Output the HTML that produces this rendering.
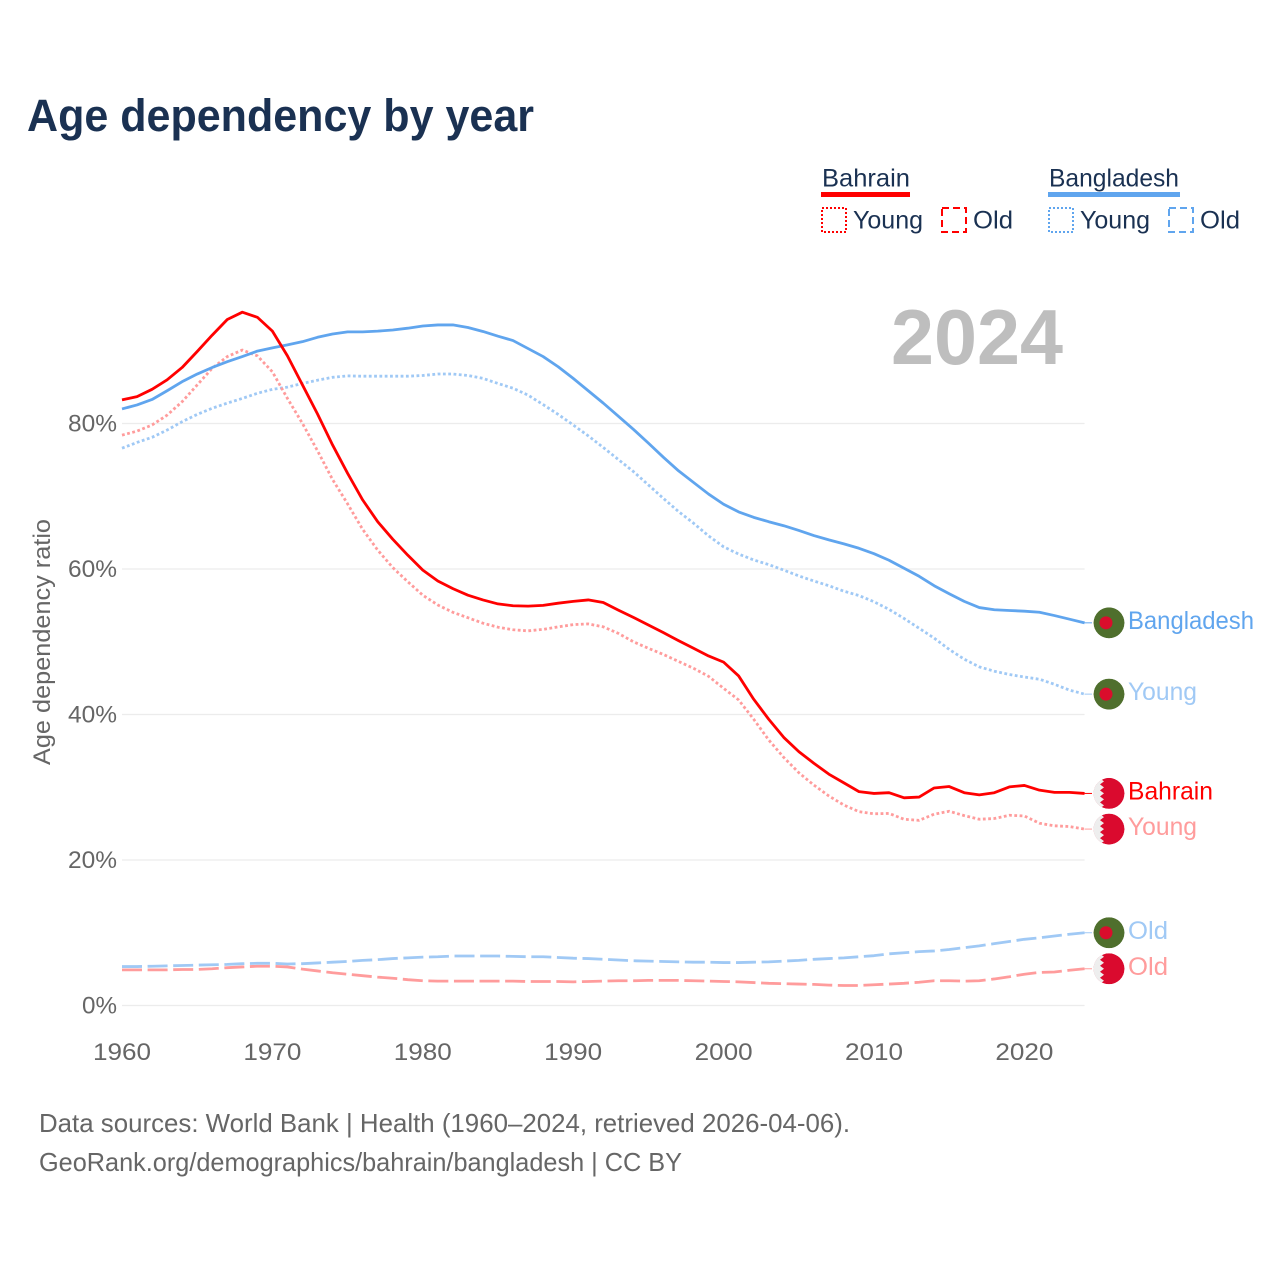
<!DOCTYPE html>
<html lang="en">
<head>
<meta charset="utf-8">
<title>Age dependency by year</title>
<style>
html,body{margin:0;padding:0;background:#fff;}
svg{display:block;font-family:"Liberation Sans",sans-serif;}
</style>
</head>
<body>
<svg id="chart" xmlns="http://www.w3.org/2000/svg" width="1280" height="1280" viewBox="0 0 1280 1280">
  <defs>
    <clipPath id="flag-clip"><circle cx="0" cy="0" r="15.5"></circle></clipPath>
  </defs>
  <rect x="0" y="0" width="1280" height="1280" fill="#ffffff"></rect>
  <text x="27" y="131" font-size="45" font-weight="700" fill="#1a3152" textLength="507" lengthAdjust="spacingAndGlyphs">Age dependency by year</text>

  <g font-size="25" fill="#1a3152">
    <text x="822" y="186.5" textLength="88" lengthAdjust="spacingAndGlyphs">Bahrain</text>
    <rect x="821" y="192" width="89" height="5" fill="#ff0000"></rect>
    <rect x="822" y="208" width="24" height="24" fill="none" stroke="#ff0000" stroke-width="2" stroke-dasharray="2 2"></rect>
    <text x="853" y="228.5" textLength="70" lengthAdjust="spacingAndGlyphs">Young</text>
    <rect x="942" y="208" width="24" height="24" fill="none" stroke="#ff0000" stroke-width="2" stroke-dasharray="7 4"></rect>
    <text x="973" y="228.5" textLength="40" lengthAdjust="spacingAndGlyphs">Old</text>

    <text x="1049" y="186.5" textLength="130" lengthAdjust="spacingAndGlyphs">Bangladesh</text>
    <rect x="1048" y="192" width="132" height="5" fill="#60a5ee"></rect>
    <rect x="1049" y="208" width="24" height="24" fill="none" stroke="#60a5ee" stroke-width="2" stroke-dasharray="2 2"></rect>
    <text x="1080" y="228.5" textLength="70" lengthAdjust="spacingAndGlyphs">Young</text>
    <rect x="1169" y="208" width="24" height="24" fill="none" stroke="#60a5ee" stroke-width="2" stroke-dasharray="7 4"></rect>
    <text x="1200" y="228.5" textLength="40" lengthAdjust="spacingAndGlyphs">Old</text>
  </g>

  <text x="891" y="364" font-size="78" font-weight="700" fill="#bebebe" textLength="172" lengthAdjust="spacingAndGlyphs">2024</text>

  <g id="grid"></g>
  <g id="yticks"></g>
  <g id="xticks"></g>
  <text transform="translate(50,765) rotate(-90)" x="0" y="0" font-size="24" fill="#666666" textLength="246" lengthAdjust="spacingAndGlyphs">Age dependency ratio</text>
  <g id="series"></g>
  <g id="flags"></g>
  <g id="labels"></g>

  <text x="39" y="1132" font-size="26" fill="#666666" textLength="811" lengthAdjust="spacingAndGlyphs">Data sources: World Bank | Health (1960–2024, retrieved 2026-04-06).</text>
  <text x="39" y="1171" font-size="26" fill="#666666" textLength="643" lengthAdjust="spacingAndGlyphs">GeoRank.org/demographics/bahrain/bangladesh | CC BY</text>
</svg>
<script>
const startYear = 1960;
const xTickLabels = [1960, 1970, 1980, 1990, 2000, 2010, 2020];
const yTickLabels = [0, 20, 40, 60, 80];

const bahrainTotal = [83.25,83.7,84.7,86,87.7,89.9,92.15,94.3,95.3,94.6,92.7,89.3,85.3,81.3,77.05,73.15,69.5,66.5,64.1,61.9,59.85,58.35,57.3,56.4,55.75,55.2,54.95,54.9,55,55.3,55.55,55.75,55.4,54.35,53.35,52.3,51.25,50.15,49.1,48.05,47.2,45.3,42.1,39.35,36.85,34.9,33.3,31.8,30.6,29.4,29.15,29.25,28.55,28.65,29.9,30.1,29.25,28.95,29.25,30.05,30.25,29.6,29.3,29.3,29.15];
const bahrainYoung = [78.4,78.95,79.8,81.15,83,85.3,87.6,89.2,90.1,89.3,87.1,83.45,80,76.25,72.3,68.95,65.45,62.6,60.2,58.25,56.4,55.05,54.05,53.3,52.55,52,51.65,51.5,51.7,52.05,52.35,52.45,52.05,51.15,50,49.1,48.25,47.3,46.35,45.25,43.6,42,39.35,36.5,34.1,32,30.3,28.8,27.55,26.65,26.35,26.4,25.6,25.45,26.3,26.7,26.1,25.6,25.7,26.15,26.05,25.05,24.7,24.6,24.25];
const bahrainOld = [4.9,4.9,4.9,4.9,4.95,4.95,5.05,5.2,5.3,5.4,5.4,5.3,5,4.75,4.5,4.3,4.1,3.9,3.75,3.55,3.4,3.35,3.35,3.35,3.35,3.35,3.35,3.3,3.3,3.3,3.25,3.3,3.35,3.4,3.4,3.45,3.45,3.45,3.4,3.35,3.3,3.25,3.15,3.05,3,2.95,2.9,2.8,2.75,2.75,2.85,2.95,3.05,3.2,3.4,3.4,3.35,3.4,3.65,3.95,4.3,4.55,4.6,4.85,5.05];
const bangladeshTotal = [82,82.55,83.3,84.5,85.75,86.8,87.7,88.5,89.2,89.95,90.4,90.8,91.25,91.85,92.3,92.6,92.6,92.7,92.85,93.1,93.4,93.55,93.55,93.2,92.65,92,91.4,90.3,89.2,87.8,86.2,84.5,82.8,81,79.2,77.3,75.35,73.5,71.9,70.3,68.9,67.85,67.1,66.5,65.95,65.3,64.6,64,63.45,62.85,62.1,61.2,60.1,59,57.7,56.6,55.55,54.7,54.4,54.3,54.2,54.05,53.6,53.1,52.6];
const bangladeshYoung = [76.6,77.4,78.1,79.1,80.25,81.25,82.1,82.8,83.45,84.15,84.7,85,85.5,85.95,86.35,86.55,86.5,86.5,86.5,86.5,86.6,86.8,86.8,86.6,86.2,85.5,84.85,83.9,82.6,81.25,79.8,78.3,76.7,75.05,73.4,71.55,69.7,67.9,66.3,64.55,63.05,62.05,61.25,60.6,59.85,59.05,58.35,57.7,56.95,56.35,55.5,54.45,53.2,51.85,50.5,48.95,47.6,46.55,45.95,45.5,45.15,44.85,44.15,43.35,42.8];
const bangladeshOld = [5.35,5.35,5.4,5.45,5.5,5.55,5.6,5.65,5.75,5.8,5.8,5.7,5.75,5.85,5.95,6.05,6.2,6.3,6.45,6.55,6.65,6.7,6.8,6.8,6.8,6.8,6.75,6.7,6.7,6.6,6.5,6.45,6.35,6.25,6.15,6.1,6.05,6,5.95,5.95,5.9,5.9,5.95,6,6.1,6.2,6.35,6.45,6.55,6.7,6.85,7.1,7.25,7.4,7.5,7.7,7.95,8.2,8.5,8.8,9.1,9.3,9.55,9.8,10];

const NS = 'http://www.w3.org/2000/svg';
const xAxis = function (year) { return 122 + (year - 1960) * 15.04; };
const yAxis = function (value) { return 1005.5 - value * 7.275; };

function svgEl(tag, parent) {
  const el = document.createElementNS(NS, tag);
  parent.appendChild(el);
  return el;
}

const gridGroup = document.getElementById('grid');
const yTickGroup = document.getElementById('yticks');
yTickLabels.forEach(function (v) {
  const line = svgEl('line', gridGroup);
  
  
  line.setAttribute('x1', xAxis(1960));
  line.setAttribute('x2', xAxis(2024));
  line.setAttribute('y1', yAxis(v));
  line.setAttribute('y2', yAxis(v));
  line.setAttribute('stroke', '#ececec');
  line.setAttribute('stroke-width', '1.3');

  const t = svgEl('text', yTickGroup);
  
  
  t.textContent = v + '%';
  t.setAttribute('x', 117);
  t.setAttribute('y', yAxis(v) + 8);
  t.setAttribute('text-anchor', 'end');
  t.setAttribute('font-size', '24');
  t.setAttribute('fill', '#666666');
  t.setAttribute('textLength', v === 0 ? 35 : 49);
  t.setAttribute('lengthAdjust', 'spacingAndGlyphs');
});

const xTickGroup = document.getElementById('xticks');
xTickLabels.forEach(function (yr) {
  const t = svgEl('text', xTickGroup);
  
  
  t.textContent = String(yr);
  t.setAttribute('x', xAxis(yr));
  t.setAttribute('y', 1060);
  t.setAttribute('text-anchor', 'middle');
  t.setAttribute('font-size', '24');
  t.setAttribute('fill', '#666666');
  t.setAttribute('textLength', 58);
  t.setAttribute('lengthAdjust', 'spacingAndGlyphs');
});

function linePath(values) {
  return values.map(function (v, i) {
    return (i ? 'L' : 'M') + xAxis(startYear + i).toFixed(2) + ' ' + yAxis(v).toFixed(2);
  }).join('');
}

const seriesGroup = document.getElementById('series');
const flagGroup = document.getElementById('flags');
const labelGroup = document.getElementById('labels');

function drawSeries(values, name, label, labelWidth, color, dash, flag) {
  const path = svgEl('path', seriesGroup);
  
  
  path.setAttribute('d', linePath(values));
  path.setAttribute('fill', 'none');
  path.setAttribute('stroke', color);
  path.setAttribute('stroke-width', '2.8');
  path.setAttribute('stroke-linejoin', 'round');
  if (dash) path.setAttribute('stroke-dasharray', dash);

  const last = values[values.length - 1];
  const ly = yAxis(last);
  const conn = svgEl('line', seriesGroup);
  
  
  conn.setAttribute('x1', xAxis(2024));
  conn.setAttribute('x2', 1092);
  conn.setAttribute('y1', ly);
  conn.setAttribute('y2', ly);
  conn.setAttribute('stroke', color);
  conn.setAttribute('stroke-width', '1');

  const g = svgEl('g', flagGroup);
  
  
  g.setAttribute('transform', 'translate(1109 ' + ly.toFixed(2) + ')');
  g.setAttribute('clip-path', 'url(#flag-clip)');
  if (flag === 'bangladesh') {
    const bg = svgEl('circle', g);
    bg.setAttribute('r', 15.5);
    bg.setAttribute('fill', '#4f6f2d');
    const dot = svgEl('circle', g);
    dot.setAttribute('cx', -3);
    dot.setAttribute('r', 6.5);
    dot.setAttribute('fill', '#da0d2c');
  } else {
    const bg = svgEl('circle', g);
    bg.setAttribute('r', 15.5);
    bg.setAttribute('fill', '#da0a2e');
    const white = svgEl('polygon', g);
    white.setAttribute('fill', '#eeeeee');
    white.setAttribute('points', '-16,-16 -10,-16 -9,-15 -5,-12 -9,-9 -5,-6 -9,-3 -5,0 -9,3 -5,6 -9,9 -5,12 -9,15 -10,16 -16,16');
  }

  const t = svgEl('text', labelGroup);
  
  
  t.textContent = label;
  t.setAttribute('x', 1128);
  t.setAttribute('y', ly + 6);
  t.setAttribute('font-size', '25');
  t.setAttribute('fill', color);
  t.setAttribute('textLength', labelWidth);
  t.setAttribute('lengthAdjust', 'spacingAndGlyphs');
}

drawSeries(bangladeshOld, 'bangladesh-old', 'Old', 40, '#a0c9f5', '20 5.6', 'bangladesh');
drawSeries(bahrainOld, 'bahrain-old', 'Old', 40, '#ff9c9c', '20 5.6', 'bahrain');
drawSeries(bangladeshYoung, 'bangladesh-young', 'Young', 69, '#a0c9f5', '2.8 2.5', 'bangladesh');
drawSeries(bahrainYoung, 'bahrain-young', 'Young', 69, '#ff9c9c', '2.8 2.5', 'bahrain');
drawSeries(bangladeshTotal, 'bangladesh-total', 'Bangladesh', 126, '#60a5ee', null, 'bangladesh');
drawSeries(bahrainTotal, 'bahrain-total', 'Bahrain', 85, '#ff0000', null, 'bahrain');
</script>
</body>
</html>
